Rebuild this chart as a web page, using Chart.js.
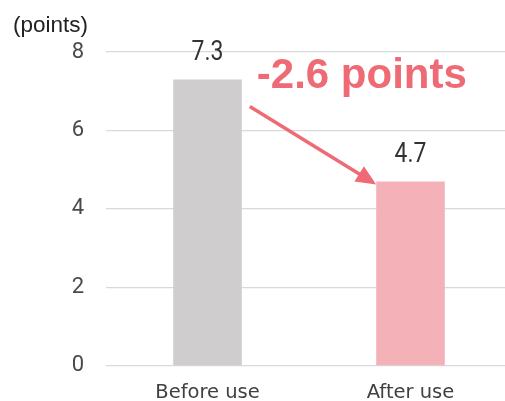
<!DOCTYPE html>
<html>
<head>
<meta charset="utf-8">
<script src="https://cdn.jsdelivr.net/npm/chart.js@4"></script>
<style>
  html, body { margin: 0; padding: 0; background: #fff; overflow: hidden; }
  #wrap { width: 512px; height: 401px; }
</style>
</head>
<body>
<div id="wrap"><canvas id="chart" width="512" height="401"></canvas></div>
<script>
const categories = ["Before use", "After use"];
const scores = [7.3, 4.7];
const barColors = ["#cfcdce", "#f4b1b8"];
const yTicks = [0, 2, 4, 6, 8];
const unitLabel = "(points)";

const red = "#ee6b76";

// value labels, the unit caption and the change arrow
const annotate = {
  id: "annotate",
  afterDatasetsDraw(chart) {
    const ctx = chart.ctx;
    const bars = chart.getDatasetMeta(0).data;
    ctx.save();

    ctx.fillStyle = "#333";
    ctx.font = "27px Roboto";
    ctx.textAlign = "center";
    ctx.textBaseline = "alphabetic";
    bars.forEach((b, i) => {
      ctx.save();
      ctx.translate(b.x, b.y - 19);
      ctx.scale(0.85, 1);
      ctx.fillText(scores[i].toFixed(1), 0, 0);
      ctx.restore();
    });

    ctx.fillStyle = "#222";
    ctx.font = "22.5px 'Liberation Sans'";
    ctx.textAlign = "left";
    ctx.fillText(unitLabel, 13, 32);

    const b0 = bars[0], b1 = bars[1];
    const x0 = b0.x + b0.width / 2 + 8, y0 = b0.y + 27;
    const x1 = b1.x - b1.width / 2, y1 = b1.y + 3;
    const ang = Math.atan2(y1 - y0, x1 - x0);
    const head = 20;
    ctx.strokeStyle = red;
    ctx.fillStyle = red;
    ctx.lineWidth = 3.5;
    ctx.beginPath();
    ctx.moveTo(x0, y0);
    ctx.lineTo(x1 - head * 0.8 * Math.cos(ang), y1 - head * 0.8 * Math.sin(ang));
    ctx.stroke();
    ctx.beginPath();
    ctx.moveTo(x1, y1);
    ctx.lineTo(x1 - head * Math.cos(ang) + 9 * Math.sin(ang), y1 - head * Math.sin(ang) - 9 * Math.cos(ang));
    ctx.lineTo(x1 - head * Math.cos(ang) - 9 * Math.sin(ang), y1 - head * Math.sin(ang) + 9 * Math.cos(ang));
    ctx.closePath();
    ctx.fill();

    const diff = scores[1] - scores[0];
    ctx.font = "bold 42px 'Liberation Sans'";
    ctx.fillStyle = red;
    ctx.fillText(diff.toFixed(1) + " points", b0.x + b0.width / 2 + 15, b0.y + 9);

    ctx.restore();
  }
};

new Chart(document.getElementById("chart"), {
  type: "bar",
  data: {
    labels: categories,
    datasets: [{
      data: scores,
      backgroundColor: barColors,
      barPercentage: 0.338,
      categoryPercentage: 1
    }]
  },
  options: {
    responsive: false,
    animation: false,
    layout: { padding: { top: 52, left: 0, right: 0, bottom: 0 } },
    plugins: { legend: { display: false }, tooltip: { enabled: false } },
    scales: {
      x: {
        grid: { display: false },
        border: { display: false },
        ticks: { color: "#404040", font: { family: "'DejaVu Sans'", size: 19.5 }, padding: 7 },
        afterFit: s => { s.height = 34; }
      },
      y: {
        min: 0,
        max: 8,
        afterBuildTicks: s => { s.ticks = yTicks.map(v => ({ value: v })); },
        grid: { color: "#d9d9d9", lineWidth: 1.3, drawTicks: false },
        border: { display: false },
        ticks: { color: "#4a4a4a", font: { family: "Roboto", size: 22 }, padding: 22 },
        afterFit: s => { s.width = 106; }
      }
    }
  },
  plugins: [annotate]
});
</script>
</body>
</html>
